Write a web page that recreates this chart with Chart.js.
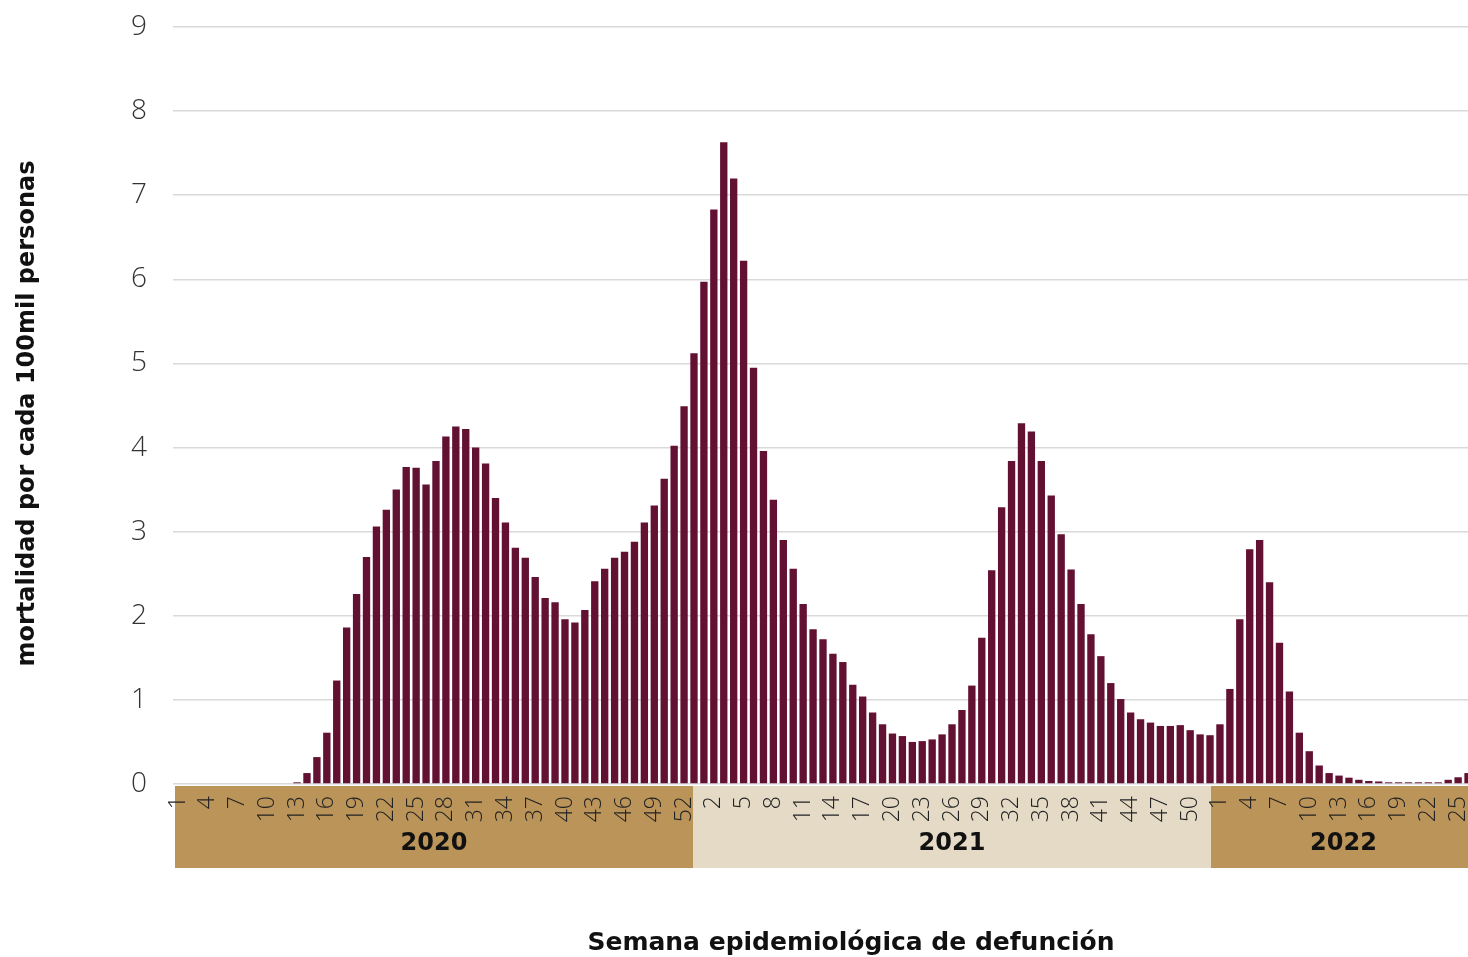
<!DOCTYPE html>
<html><head><meta charset="utf-8">
<script src="https://cdn.jsdelivr.net/npm/chart.js@4.4.1/dist/chart.umd.min.js"></script>
<style>
html,body{margin:0;padding:0;background:#fff;overflow:hidden;width:1468px;height:957px;}
#c{position:absolute;left:0;top:0;}
</style></head><body>
<canvas id="c" width="1474" height="957" style="width:1474px;height:957px"></canvas>
<script>
// Semanas epidemiológicas (etiquetas)
const weeks2020 = Array.from({length:53},(_,i)=>String(i+1));
const weeks2021 = Array.from({length:52},(_,i)=>String(i+1));
const weeks2022 = Array.from({length:26},(_,i)=>String(i+1));

// Mortalidad por cada 100mil personas
const mort2020 = [0,0,0,0,0,0,0,0,0,0,0,0,
  0.02,0.13,0.32,0.61,1.23,1.86,2.26,2.70,3.06,3.26,3.50,3.77,3.76,3.56,3.84,4.13,4.25,4.22,
  4.00,3.81,3.40,3.11,2.81,2.69,2.46,2.21,2.16,1.96,1.92,2.07,2.41,2.56,2.69,2.76,2.88,3.11,
  3.31,3.63,4.02,4.49,5.12];
const mort2021 = [5.97,6.83,7.63,7.20,6.22,4.95,3.96,3.38,2.90,2.56,2.14,1.84,1.72,1.55,1.45,
  1.18,1.04,0.85,0.71,0.60,0.57,0.50,0.51,0.53,0.59,0.71,0.88,1.17,1.74,2.54,3.29,3.84,4.29,
  4.19,3.84,3.43,2.97,2.55,2.14,1.78,1.52,1.20,1.01,0.85,0.77,0.73,0.69,0.69,0.70,0.64,0.59,0.58];
const mort2022 = [0.71,1.13,1.96,2.79,2.90,2.40,1.68,1.10,0.61,0.39,0.22,0.13,0.10,0.075,0.05,
  0.036,0.03,0.02,0.02,0.02,0.02,0.02,0.02,0.05,0.08,0.13];

const yTicks = [0,1,2,3,4,5,6,7,8,9];
const years = ['2020','2021','2022'];
const yearBandEdges = [-0.3, 51.9, 104.1, 131]; // en unidades de categoría
const yearBandColors = ['#bb9459','#e4dac5','#bb9459'];
const xTitle = 'Semana epidemiológica de defunción';
const yTitle = 'mortalidad por cada 100mil personas';

const labels = [...weeks2020, ...weeks2021, ...weeks2022];
const values = [...mort2020, ...mort2021, ...mort2022];

const boldFont = '"DejaVu Sans", "Open Sans", sans-serif';
const lightFont = '"Open Sans", "Noto Sans", sans-serif';

const bandPlugin = {
  id:'yearBands',
  beforeDraw(chart){
    const {ctx, chartArea, scales:{x}} = chart;
    const top = chartArea.bottom + 2, h = 82;
    ctx.save();
    for(let i=0;i<years.length;i++){
      const x0 = x.getPixelForValue(yearBandEdges[i]);
      const x1 = x.getPixelForValue(yearBandEdges[i+1]);
      ctx.fillStyle = yearBandColors[i];
      ctx.fillRect(x0, top, x1-x0, h);
    }
    ctx.restore();
  },
  afterDraw(chart){
    const {ctx, chartArea, scales:{x}} = chart;
    ctx.save();
    ctx.font = 'bold 24px ' + boldFont;
    ctx.fillStyle = '#111';
    ctx.textAlign = 'center';
    ctx.textBaseline = 'middle';
    for(let i=0;i<years.length;i++){
      const x0 = x.getPixelForValue(yearBandEdges[i]);
      const x1 = Math.min(x.getPixelForValue(yearBandEdges[i+1]), 1476);
      ctx.fillText(years[i], (x0+x1)/2, chartArea.bottom + 60);
    }
    ctx.font = 'bold 25px ' + boldFont;
    ctx.fillText(xTitle, (chartArea.left + chartArea.right)/2 + 28, chart.height - 14);
    ctx.font = 'bold 24px ' + boldFont;
    ctx.translate(28, (chartArea.top + chartArea.bottom)/2 + 8);
    ctx.rotate(-Math.PI/2);
    ctx.fillText(yTitle, 0, 0);
    ctx.restore();
  }
};

new Chart(document.getElementById('c'), {
  type:'bar',
  data:{labels, datasets:[{data:values, backgroundColor:'#621132', borderWidth:0,
    barPercentage:0.74, categoryPercentage:1}]},
  options:{
    responsive:false, maintainAspectRatio:false, animation:false, devicePixelRatio:1,
    layout:{padding:{top:27, right:1, left:0, bottom:0}},
    plugins:{legend:{display:false}, tooltip:{enabled:false}},
    scales:{
      x:{
        grid:{display:false, drawTicks:false},
        border:{display:false},
        ticks:{autoSkip:false, minRotation:90, maxRotation:90, padding:12, color:'#222',
          font:{family:lightFont, size:23, weight:'300'},
          callback:(v,i)=> i%3===0 ? labels[i] : ''},
        afterFit(s){ s.height = 173; s.paddingLeft = 0; s.paddingRight = 0; }
      },
      y:{
        min:0, max:9,
        afterBuildTicks(s){ s.ticks = yTicks.map(v=>({value:v})); },
        grid:{color:'#d9d9d9', lineWidth:1.5, drawTicks:false},
        border:{display:false},
        ticks:{padding:26, color:'#333',
          font:{family:lightFont, size:28, weight:'300'}},
        afterFit(s){ s.width = 173; s.paddingTop = 0; s.paddingBottom = 0; }
      }
    }
  },
  plugins:[bandPlugin]
});
</script>
</body></html>
